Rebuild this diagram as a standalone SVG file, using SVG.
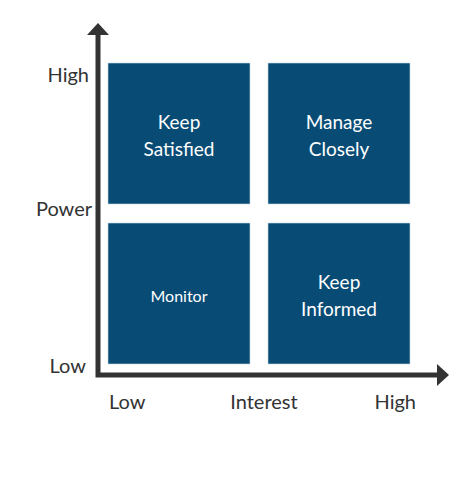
<svg xmlns="http://www.w3.org/2000/svg" width="473" height="480" viewBox="0 0 473 480">
<style>
.box{fill:#084c75;stroke:#c9d7e2;stroke-width:0.6}
.bt{font-family:Lato,"Open Sans",sans-serif;font-size:19px;fill:#ffffff;text-anchor:middle}
.sm{font-size:16px}
.ax{font-family:Lato,"Open Sans",sans-serif;font-size:20px;fill:#333333}
.axis{stroke:#333333;stroke-width:5;fill:none}
</style>
<rect width="473" height="480" fill="#ffffff"/>
<g id="keep-satisfied"><rect class="box" x="108" y="63" width="142" height="141"/><text class="bt" x="179" y="129">Keep</text><text class="bt" x="179" y="156">Satisfied</text></g>
<g id="manage-closely"><rect class="box" x="268" y="63" width="142" height="141"/><text class="bt" x="339" y="129">Manage</text><text class="bt" x="339" y="156">Closely</text></g>
<g id="monitor"><rect class="box" x="108" y="223" width="142" height="141"/><text class="bt sm" x="179" y="302">Monitor</text></g>
<g id="keep-informed"><rect class="box" x="268" y="223" width="142" height="141"/><text class="bt" x="339" y="289">Keep</text><text class="bt" x="339" y="316">Informed</text></g>
<g id="connectors">
<path class="axis" d="M98 33 V375 H438"/>
<polygon points="98,23 109,35 87,35" fill="#333333"/>
<polygon points="449,375 437,364 437,386" fill="#333333"/>
</g>
<g id="labels">
<text class="ax" x="89" y="82" text-anchor="end">High</text>
<text class="ax" x="92" y="216" text-anchor="end">Power</text>
<text class="ax" x="86" y="373" text-anchor="end">Low</text>
<text class="ax" x="109" y="409">Low</text>
<text class="ax" x="264" y="409" text-anchor="middle">Interest</text>
<text class="ax" x="416" y="409" text-anchor="end">High</text>
</g>
</svg>
